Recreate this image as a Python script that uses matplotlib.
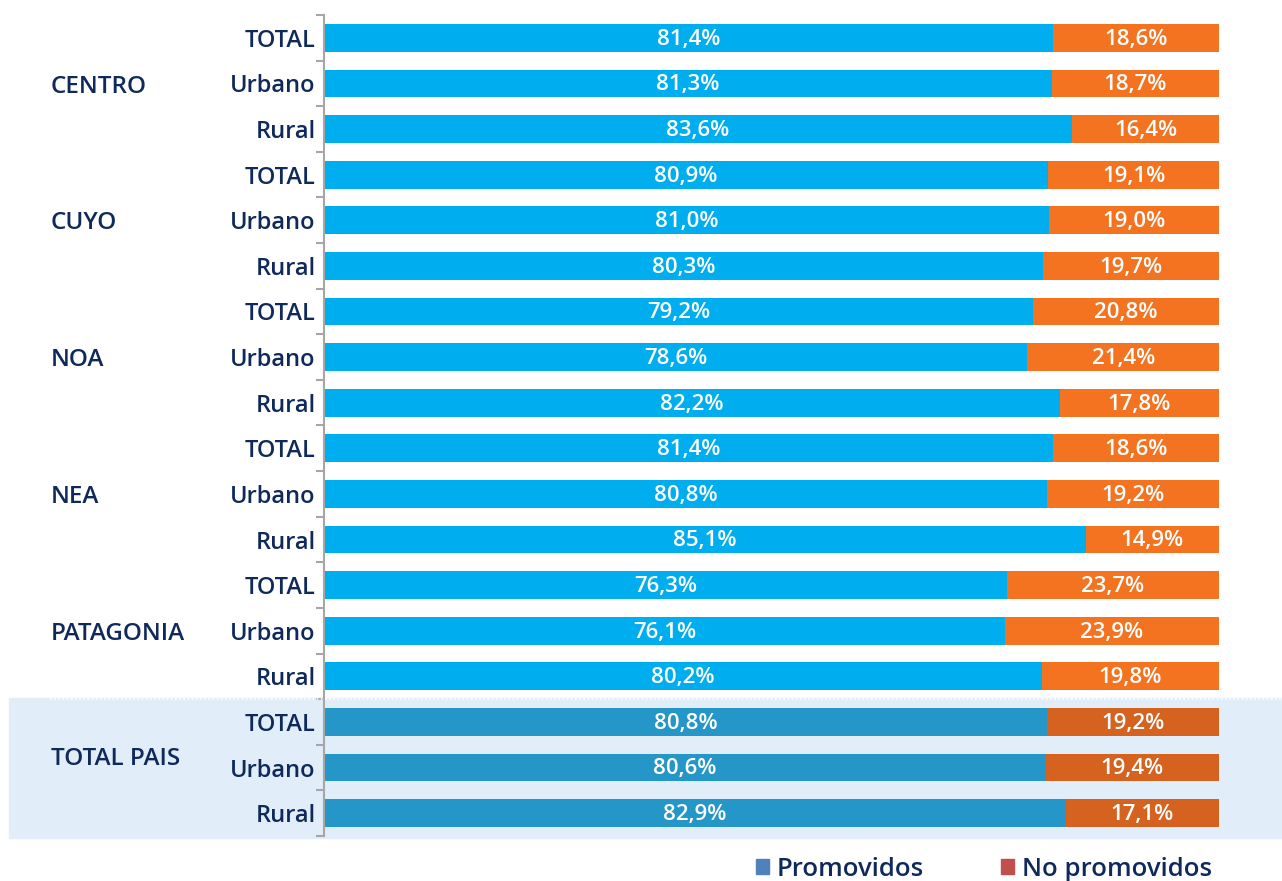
import numpy as np
import matplotlib.pyplot as plt
from matplotlib.patches import Rectangle
from matplotlib.lines import Line2D

plt.rcParams['font.family'] = ['Open Sans', 'DejaVu Sans']

regions = ["CENTRO", "CUYO", "NOA", "NEA", "PATAGONIA", "TOTAL PAIS"]
subcats = ["TOTAL", "Urbano", "Rural"]

promovidos = [81.4, 81.3, 83.6,
              80.9, 81.0, 80.3,
              79.2, 78.6, 82.2,
              81.4, 80.8, 85.1,
              76.3, 76.1, 80.2,
              80.8, 80.6, 82.9]
no_promovidos = [18.6, 18.7, 16.4,
                 19.1, 19.0, 19.7,
                 20.8, 21.4, 17.8,
                 18.6, 19.2, 14.9,
                 23.7, 23.9, 19.8,
                 19.2, 19.4, 17.1]

navy = "#0F2A5A"
blue = "#00AEEF"
orange = "#F37321"
blue_tot = "#2596C8"
orange_tot = "#D5621F"

fig = plt.figure(figsize=(12.82, 8.81), dpi=100)
ax = fig.add_axes([324/1282, 1-836/881, (1219-324)/1282, (836-15)/881])
ax.set_facecolor("none")

# shaded background for TOTAL PAIS
fig.add_artist(Rectangle((9/1282, 1-838/881), 1-9/1282, (838-698)/881,
                         transform=fig.transFigure, color="#E1EDF8", zorder=0))
fig.add_artist(Line2D([50/1282, 1], [1-699/881, 1-699/881], transform=fig.transFigure,
                      color="white", linestyle=(0, (1, 1.5)), lw=1.2, zorder=0.5))

n = len(promovidos)
y = np.arange(n)
c1 = [blue]*15 + [blue_tot]*3
c2 = [orange]*15 + [orange_tot]*3

ax.barh(y, promovidos, height=0.61, color=c1)
ax.barh(y, no_promovidos, left=promovidos, height=0.61, color=c2)

for i in range(n):
    p, q = promovidos[i], no_promovidos[i]
    ax.text(p/2, i + 0.03, f"{p:.1f}%".replace(".", ","), ha="center", va="center",
            color="white", fontsize=16, fontweight="semibold")
    ax.text(p + q/2, i + 0.03, f"{q:.1f}%".replace(".", ","), ha="center", va="center",
            color="white", fontsize=16, fontweight="semibold")

ax.set_xlim(0, 100)
ax.set_ylim(n - 0.5, -0.5)
ax.set_yticks(y)
ax.set_yticklabels(subcats * len(regions), fontsize=17, color=navy, fontweight="semibold")
ax.tick_params(axis="y", which="major", length=0, pad=6)
ax.set_yticks(np.arange(-0.5, n, 1), minor=True)
ax.tick_params(axis="y", which="minor", length=6, color="#A6A6A6", width=1.5)
ax.xaxis.set_visible(False)
for s in ["top", "right", "bottom"]:
    ax.spines[s].set_visible(False)
ax.spines["left"].set_color("#A6A6A6")
ax.spines["left"].set_linewidth(1.5)

# region labels (TOTAL PAIS sits a little higher in the original)
for k, r in enumerate(regions):
    off = 0.82 if r == "TOTAL PAIS" else 1.07
    ax.text(-0.305, 3*k + off, r, transform=ax.get_yaxis_transform(), ha="left",
            va="center", fontsize=17.5, color=navy, fontweight="semibold")

handles = [Rectangle((0, 0), 1, 1, color="#4F81BD"),
           Rectangle((0, 0), 1, 1, color="#C0504D")]
fig.legend(handles, ["Promovidos", "No promovidos"], loc="center",
           bbox_to_anchor=(984/1282, 1-869/881), ncol=2, frameon=False,
           prop={"size": 18.5, "weight": "semibold"}, labelcolor=navy,
           handlelength=0.5, handleheight=0.5, handletextpad=0.3, columnspacing=3.0)

fig.savefig("out.png", dpi=100)
